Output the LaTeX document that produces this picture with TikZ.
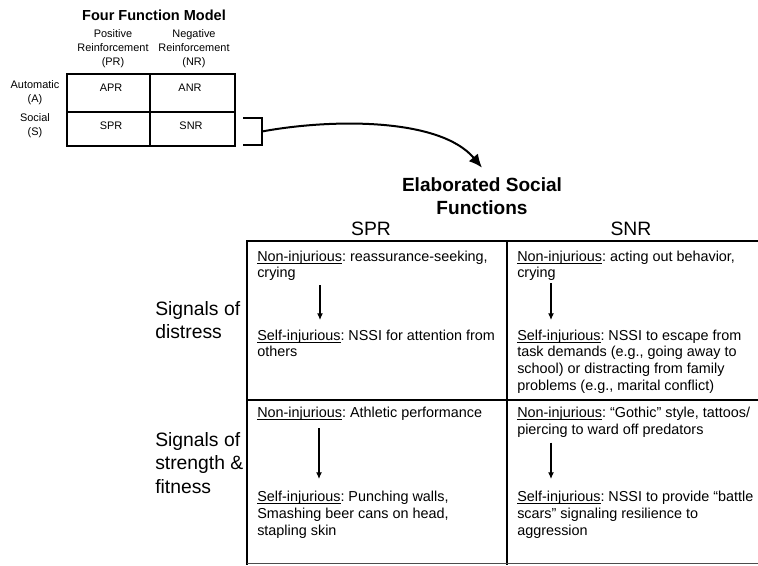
\documentclass[tikz,border=0pt]{standalone}
\usepackage{fontspec}
\setmainfont{Liberation Sans}
\usetikzlibrary{arrows.meta}
\newcommand{\undl}[1]{\underline{\smash{#1}}}
\frenchspacing

\begin{document}
\begin{tikzpicture}[x=0.75pt, y=-0.75pt,
	small/.style={font=\fontsize{8.2}{10.6}\selectfont, align=center, inner sep=0},
	cell/.style={font=\fontsize{10.8}{12.5}\selectfont\frenchspacing, align=left, anchor=north west, inner sep=0},
	big/.style={font=\fontsize{14.5}{17.6}\selectfont, align=left, inner sep=0},
	flow/.style={-{Latex[length=5pt,width=4.5pt]}, line width=0.9pt}]
	\useasboundingbox (0,0) rectangle (758,566);
	\draw[line width=1.9pt] (67,74) rectangle (235,146);
	\draw[line width=0.8pt] (150,74) -- (150,146) (67,112) -- (235,112);
	\draw[line width=1.5pt] (243,118) -| (262,145) -- (243,145);
	\coordinate (brk) at (262,131.5);
	\node [font=\bfseries\fontsize{10.9}{13}\selectfont, inner sep=0] (fourfn) at (154,15) {Four Function Model};
	\node [small] (posr) at (113,49) {Positive\\Reinforcement\\(PR)};
	\node [small] (negr) at (194,49) {Negative\\Reinforcement\\(NR)};
	\node [small] (auto) at (35,93) {Automatic\\(A)};
	\node [small] (soc) at (35,125.5) {Social\\(S)};
	\node [small] (apr) at (111,88) {APR};
	\node [small] (anr) at (190,88) {ANR};
	\node [small] (spr) at (111,126) {SPR};
	\node [small] (snr) at (191,126) {SNR};
	\node [big, align=center, font=\bfseries\fontsize{14.3}{17.3}\selectfont] (esf) at (482,196.5) {Elaborated Social\\Functions};
	\draw[line width=1.5pt, -{Latex[length=10pt,width=9pt]}] (brk) .. controls +(70,-13) and +(-42,-50) .. ([shift={(0,-10)}]esf.north);
	\draw[line width=2.2pt] (247,565) -- (247,241) -- (758,241);
	\draw[line width=1pt] (507,241) -- (507,565) (247,400) -- (758,400);
	\draw[line width=0.75pt, black!70] (247,564) -- (758,564);
	\node [big] (hspr) at (371,229) {SPR};
	\node [big] (hsnr) at (631,229) {SNR};
	\node [big, anchor=west] (distress) at (155,320) {Signals of\\distress};
	\node [big, anchor=west] (strength) at (155,463) {Signals of\\strength \&\\fitness};
	\node [cell] (ni1) at (257,250.6) {\undl{Non-injurious}: reassurance-seeking,\\crying};
	\node [cell] (si1) at (257,329.6) {\undl{Self-injurious}: NSSI for attention from\\others};
	\node [cell] (ni2) at (517,250.6) {\undl{Non-injurious}: acting out behavior,\\crying};
	\node [cell] (si2) at (517,329.6) {\undl{Self-injurious}: NSSI to escape from\\task demands (e.g., going away to\\school) or distracting from family\\problems (e.g., marital conflict)};
	\node [cell] (ni3) at (257,407) {\undl{Non-injurious}: Athletic performance};
	\node [cell] (si3) at (257,491) {\undl{Self-injurious}: Punching walls,\\Smashing beer cans on head,\\stapling skin};
	\node [cell] (ni4) at (517,407) {\undl{Non-injurious}: “Gothic” style, tattoos/\\piercing to ward off predators};
	\node [cell] (si4) at (517,491) {\undl{Self-injurious}: NSSI to provide “battle\\scars” signaling resilience to\\aggression};
	\draw[flow] ([shift={(63,4)}]ni1.south west) -- ([shift={(63,-9.6)}]si1.north west);
	\draw[flow] ([shift={(34,2)}]ni2.south west) -- ([shift={(34,-9.6)}]si2.north west);
	\draw[flow] ([shift={(62,7.5)}]ni3.south west) -- ([shift={(62,-12)}]si3.north west);
	\draw[flow] ([shift={(34,5)}]ni4.south west) -- ([shift={(34,-12)}]si4.north west);
\end{tikzpicture}
\end{document}
